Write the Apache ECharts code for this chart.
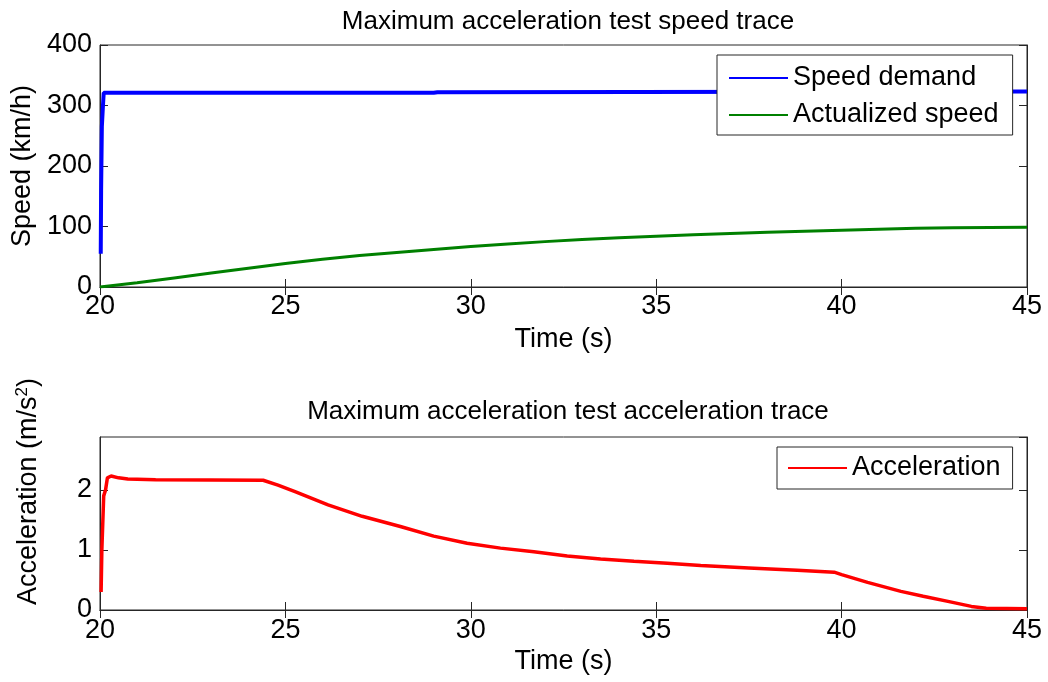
<!DOCTYPE html>
<html>
<head>
<meta charset="utf-8">
<script src="https://cdn.jsdelivr.net/npm/echarts@6/dist/echarts.min.js"></script>
<style>
  html, body { margin: 0; padding: 0; background: #fff; }
  #chart { width: 1048px; height: 682px; }
</style>
</head>
<body>
<div id="chart"></div>
<script>
// Time axis (s) and tick settings
const timeRange = [20, 45];
const timeStep = 5;
const speedRange = [0, 400];
const speedStep = 100;
const accelRange = [0, 2.88];
const accelStep = 1;

// Speed demand (km/h): [time s, speed]
const speedDemand = [
  [20.02, 55], [20.03, 160], [20.05, 265], [20.08, 300], [20.1, 321],
  [29.0, 321], [29.1, 322], [45.0, 323]
];

// Actualized speed (km/h): [time s, speed]
const actualSpeed = [
  [20, 0], [21, 7], [22, 15], [23, 23], [24, 31], [25, 39], [26, 46],
  [27, 52], [28, 57], [29, 62], [30, 67], [31, 71], [32, 75], [33, 78.5],
  [34, 81.5], [35, 84], [36, 86.5], [37, 88.5], [38, 90.5], [39, 92.3],
  [40, 94], [41, 95.5], [42, 97], [43, 98], [44, 98.5], [45, 98.7]
];

// Acceleration (m/s^2): [time s, acceleration]
const acceleration = [
  [20.03, 0.3], [20.05, 1.0], [20.1, 1.9], [20.15, 2.0], [20.2, 2.2],
  [20.3, 2.23], [20.5, 2.2], [20.75, 2.18], [21.5, 2.17], [24.4, 2.16],
  [24.8, 2.08], [25.26, 1.97], [26.15, 1.75], [27.07, 1.56], [28.1, 1.39],
  [29.0, 1.23], [29.9, 1.11], [30.8, 1.03], [31.7, 0.97], [32.6, 0.9],
  [33.5, 0.85], [34.4, 0.81], [35.3, 0.78], [36.2, 0.74], [37.5, 0.7],
  [38.8, 0.66], [39.8, 0.63], [40.0, 0.59], [40.7, 0.46], [41.6, 0.31],
  [42.2, 0.23], [42.9, 0.14], [43.5, 0.06], [43.9, 0.03], [45.0, 0.02]
];

const FONT = "'Liberation Sans', Arial, Helvetica, sans-serif";
const FRAME = '#262626';
const FS = 27;

function mainX(gridIndex, gap, margin) {
  return {
    type: 'value', gridIndex, min: timeRange[0], max: timeRange[1], interval: timeStep,
    name: 'Time (s)', nameLocation: 'middle', nameGap: gap,
    nameTextStyle: { fontFamily: FONT, fontSize: FS, color: '#000' },
    axisLine: { show: true, lineStyle: { color: FRAME, width: 1 } },
    axisTick: { show: true, inside: true, length: 8, lineStyle: { color: FRAME } },
    axisLabel: { fontFamily: FONT, fontSize: FS, color: '#000', margin: margin },
    splitLine: { show: false }
  };
}
function mirrorX(gridIndex) {
  return {
    type: 'value', gridIndex, position: 'top', min: timeRange[0], max: timeRange[1], interval: timeStep,
    axisLine: { show: true, lineStyle: { color: FRAME, width: 1 } },
    axisTick: { show: true, inside: true, length: 8, lineStyle: { color: FRAME } },
    axisLabel: { show: false }, splitLine: { show: false }
  };
}
function mirrorY(gridIndex, range, step) {
  return {
    type: 'value', gridIndex, position: 'right', min: range[0], max: range[1], interval: step,
    axisLine: { show: true, lineStyle: { color: FRAME, width: 1 } },
    axisTick: { show: true, inside: true, length: 8, lineStyle: { color: FRAME } },
    axisLabel: { show: false }, splitLine: { show: false }
  };
}

const chart = echarts.init(document.getElementById('chart'), null, { renderer: 'canvas' });

chart.setOption({
  animation: false,
  backgroundColor: '#fff',
  textStyle: { fontFamily: FONT },
  title: [
    { text: 'Maximum acceleration test speed trace', left: 563, top: 4, textAlign: 'center',
      textStyle: { fontFamily: FONT, fontSize: 26, fontWeight: 'normal', color: '#000' } },
    { text: 'Maximum acceleration test acceleration trace', left: 563, top: 394, textAlign: 'center',
      textStyle: { fontFamily: FONT, fontSize: 26, fontWeight: 'normal', color: '#000' } }
  ],
  grid: [
    { left: 100, top: 45, right: 21, height: 242, show: true, borderColor: FRAME, borderWidth: 1, backgroundColor: '#fff' },
    { left: 100, top: 437, right: 21, height: 173, show: true, borderColor: FRAME, borderWidth: 1, backgroundColor: '#fff' }
  ],
  legend: [
    {
      data: ['Speed demand', 'Actualized speed'],
      orient: 'vertical', left: 717, top: 55,
      icon: 'rect', itemWidth: 59, itemHeight: 2, itemGap: 7,
      padding: [8, 14, 5, 12],
      backgroundColor: '#fff', borderColor: FRAME, borderWidth: 1,
      textStyle: { fontFamily: FONT, fontSize: FS, color: '#000', lineHeight: 30 }
    },
    {
      data: ['Acceleration'],
      orient: 'vertical', left: 777, top: 447,
      icon: 'rect', itemWidth: 59, itemHeight: 2,
      padding: [6, 12, 6, 11],
      backgroundColor: '#fff', borderColor: FRAME, borderWidth: 1,
      textStyle: { fontFamily: FONT, fontSize: FS, color: '#000', lineHeight: 30 }
    }
  ],
  xAxis: [
    mainX(0, 39, 6),
    mirrorX(0),
    mainX(1, 38, 7),
    mirrorX(1)
  ],
  yAxis: [
    {
      type: 'value', gridIndex: 0, min: speedRange[0], max: speedRange[1], interval: speedStep,
      name: 'Speed (km/h)', nameLocation: 'middle', nameGap: 60,
      nameTextStyle: { fontFamily: FONT, fontSize: FS, color: '#000' },
      axisLine: { show: true, lineStyle: { color: FRAME, width: 1 } },
      axisTick: { show: true, inside: true, length: 8, lineStyle: { color: FRAME } },
      axisLabel: { fontFamily: FONT, fontSize: FS, color: '#000', margin: 8 },
      splitLine: { show: false }
    },
    mirrorY(0, speedRange, speedStep),
    {
      type: 'value', gridIndex: 1, min: accelRange[0], max: accelRange[1], interval: accelStep,
      name: 'Acceleration (m/s{sup|2})', nameLocation: 'middle', nameGap: 56,
      nameTextStyle: {
        fontFamily: FONT, fontSize: FS, color: '#000', lineHeight: 30,
        padding: [0, 0, 0, 64],
        rich: { sup: { fontFamily: FONT, fontSize: 17, color: '#000', verticalAlign: 'top', lineHeight: 30 } }
      },
      axisLine: { show: true, lineStyle: { color: FRAME, width: 1 } },
      axisTick: { show: true, inside: true, length: 8, lineStyle: { color: FRAME } },
      axisLabel: { fontFamily: FONT, fontSize: FS, color: '#000', margin: 8, showMaxLabel: false },
      splitLine: { show: false }
    },
    mirrorY(1, accelRange, accelStep)
  ],
  series: [
    {
      name: 'Speed demand', type: 'line', xAxisIndex: 0, yAxisIndex: 0,
      data: speedDemand, showSymbol: false, symbol: 'none',
      itemStyle: { color: '#0000ff' }, lineStyle: { color: '#0000ff', width: 4 }, z: 3
    },
    {
      name: 'Actualized speed', type: 'line', xAxisIndex: 0, yAxisIndex: 0,
      data: actualSpeed, showSymbol: false, symbol: 'none',
      itemStyle: { color: '#008000' }, lineStyle: { color: '#008000', width: 3 }, z: 3
    },
    {
      name: 'Acceleration', type: 'line', xAxisIndex: 2, yAxisIndex: 2,
      data: acceleration, showSymbol: false, symbol: 'none',
      itemStyle: { color: '#ff0000' }, lineStyle: { color: '#ff0000', width: 3.5 }, z: 3
    }
  ]
});
</script>
</body>
</html>
